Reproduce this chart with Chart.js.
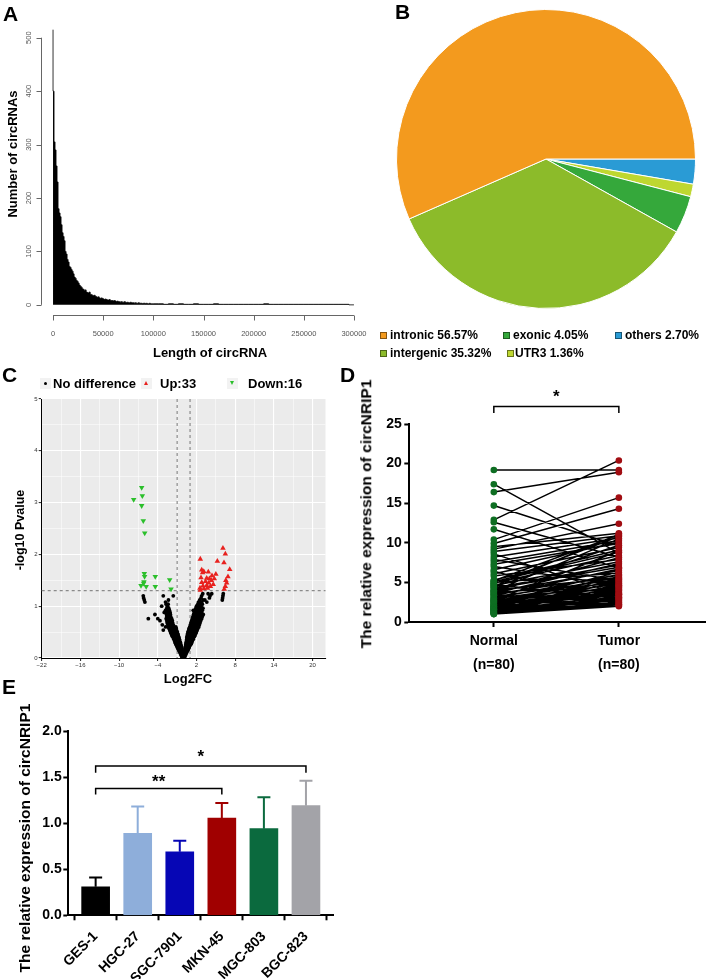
<!DOCTYPE html>
<html>
<head>
<meta charset="utf-8">
<script src="https://cdn.jsdelivr.net/npm/chart.js@4.4.1/dist/chart.umd.min.js"></script>
<style>
body { margin: 0; background: #fff; }
#fig { position: relative; width: 709px; height: 979px; overflow: hidden; font-family: "Liberation Sans", Arial, sans-serif; }
canvas { position: absolute; }
.t { position: absolute; white-space: nowrap; font-weight: bold; color: #000; line-height: 1; }
.letter { font-size: 21px; }
.ctr { transform: translate(-50%, -50%); }
.vert { transform: translate(-50%, -50%) rotate(-90deg); }
.sq { position: absolute; width: 5px; height: 5px; border: 1px solid rgba(0,0,0,0.45); }
.key { position: absolute; width: 11px; height: 11px; background: #f2f2f2; }
</style>
</head>
<body>
<div id="fig">
  <canvas id="cA" width="372" height="365" style="left:0;top:0"></canvas>
  <canvas id="cB" width="304" height="304" style="left:394px;top:7px"></canvas>
  <canvas id="cC" width="345" height="325" style="left:0;top:365px"></canvas>
  <canvas id="cD" width="354" height="310" style="left:355px;top:370px"></canvas>
  <canvas id="cE" width="345" height="289" style="left:0;top:690px"></canvas>

  <div class="t letter" style="left:3px;top:3px">A</div>
  <div class="t letter" style="left:395px;top:1px">B</div>
  <div class="t letter" style="left:2px;top:364px">C</div>
  <div class="t letter" style="left:340px;top:364px">D</div>
  <div class="t letter" style="left:2px;top:676px">E</div>

  <!-- A titles -->
  <div class="t vert" style="left:12px;top:154px;font-size:13px">Number of circRNAs</div>
  <div class="t ctr" style="left:210px;top:352px;font-size:13px">Length of circRNA</div>

  <!-- B legend -->
  <div id="legB"></div>

  <!-- C legend and titles -->
  <div class="key" style="left:40px;top:378px"></div>
  <div style="position:absolute;left:44px;top:382px;width:3px;height:3px;border-radius:50%;background:#000"></div>
  <div class="t" style="left:53px;top:377px;font-size:13px">No difference</div>
  <div class="key" style="left:141px;top:378px"></div>
  <div style="position:absolute;left:144px;top:381px;width:0;height:0;border-left:2.5px solid transparent;border-right:2.5px solid transparent;border-bottom:4.5px solid #e8211e"></div>
  <div class="t" style="left:160px;top:377px;font-size:13px">Up:33</div>
  <div class="key" style="left:227px;top:378px"></div>
  <div style="position:absolute;left:230px;top:381px;width:0;height:0;border-left:2.5px solid transparent;border-right:2.5px solid transparent;border-top:4.5px solid #2bbf2b"></div>
  <div class="t" style="left:248px;top:377px;font-size:13px">Down:16</div>
  <div class="t vert" style="left:20px;top:530px;font-size:12.5px">-log10 Pvalue</div>
  <div class="t ctr" style="left:188px;top:678px;font-size:13px">Log2FC</div>

  <!-- D / E titles -->
  <div class="t vert" style="left:366px;top:514px;font-size:15.5px">The relative expression of circNRIP1</div>
  <div class="t vert" style="left:25px;top:838px;font-size:15.5px">The relative expression of circNRIP1</div>
</div>

<script>
// ---------- A: length histogram ----------
const binFine = 1000;                 // first 100 kb, 1 kb bins
const countsFine = [
  515, 400, 305, 290, 260, 230, 180, 172, 165, 150,
  135, 128, 120, 100, 95, 85, 80, 72, 70, 66,
  63, 58, 52, 50, 46, 44, 41, 37, 35, 33,
  30, 29, 27, 28, 24, 23, 22, 24, 20, 19,
  18, 17, 18, 16, 15, 14, 15, 13, 12, 13,
  12, 11, 10, 11, 10, 9, 9, 10, 8, 8,
  8, 7, 8, 7, 6, 7, 6, 6, 5, 6,
  5, 5, 6, 5, 4, 5, 4, 4, 5, 4,
  4, 4, 3, 4, 3, 3, 4, 3, 3, 3,
  2, 3, 3, 2, 3, 2, 2, 3, 2, 2
];
const tailStart = 100000, binTail = 5000;   // 100-300 kb, 5 kb bins
const countsTail = [
  2, 2, 2, 1, 2, 1, 2, 1, 1, 2,
  1, 1, 1, 2, 1, 1, 1, 1, 1, 1,
  1, 1, 1, 2, 1, 1, 1, 1, 1, 1,
  1, 1, 1, 1, 1, 1, 1, 1, 1, 1
];
const xTicksA = [0, 50000, 100000, 150000, 200000, 250000, 300000];
const yTicksA = [0, 100, 200, 300, 400, 500];

// ---------- B: pie ----------
const pieLabels = ['others', 'UTR3', 'exonic', 'intergenic', 'intronic'];
const piePct = [2.70, 1.36, 4.05, 35.32, 56.57];
const pieColors = ['#2a9bd5', '#bed730', '#35a83b', '#8cbb2a', '#f39a1e'];

// ---------- C: volcano ----------
const downPts = [
  [-6.5, 3.29], [-6.4, 3.13], [-7.74, 3.06], [-6.5, 2.94], [-6.25, 2.65], [-6.03, 2.41],
  [-6.09, 1.63], [-6.05, 1.57], [-4.39, 1.57], [-2.16, 1.51], [-6.6, 1.40], [-6.2, 1.44],
  [-5.8, 1.38], [-4.39, 1.38], [-1.95, 1.33], [-6.15, 1.47]
];
const upPts = [
  [6.1, 2.12], [6.47, 2.01], [2.59, 1.91], [5.23, 1.87], [6.26, 1.84], [7.15, 1.71],
  [2.81, 1.70], [3.12, 1.67], [3.83, 1.66], [2.95, 1.65], [4.4, 1.59], [6.88, 1.57],
  [3.58, 1.54], [4.0, 1.53], [4.76, 1.53], [2.81, 1.46], [4.6, 1.42], [6.68, 1.45],
  [3.0, 1.39], [3.58, 1.40], [4.16, 1.38], [2.54, 1.35], [3.16, 1.34], [6.47, 1.38],
  [6.3, 1.33], [3.4, 1.48], [3.9, 1.45], [2.7, 1.55], [4.3, 1.50], [6.55, 1.50],
  [2.6, 1.31], [3.7, 1.35], [5.0, 1.62]
];
// no-difference points, grouped by -log10 p level
const noDiffRows = [
  [0.02, [-0.25, -0.15, -0.1, -0.05, 0, 0.05, 0.1, 0.15]],
  [0.04, [-0.3, -0.2, -0.1, 0, 0.1, 0.2]],
  [0.06, [-0.4, -0.3, -0.2, -0.1, 0, 0.1, 0.2, 0.3]],
  [0.08, [-0.45, -0.35, -0.25, -0.15, 0.15, 0.25, 0.35]],
  [0.10, [-0.55, -0.45, -0.35, -0.25, -0.15, 0.15, 0.25, 0.35, 0.45]],
  [0.12, [-0.6, -0.5, -0.4, -0.3, 0.2, 0.3, 0.4, 0.5]],
  [0.14, [-0.7, -0.6, -0.5, -0.4, -0.3, 0.2, 0.3, 0.45, 0.6]],
  [0.16, [-0.8, -0.65, -0.5, -0.35, 0.25, 0.4, 0.55, 0.7]],
  [0.18, [-0.85, -0.7, -0.55, -0.4, -0.25, 0.25, 0.45, 0.6, 0.75]],
  [0.20, [-0.95, -0.8, -0.6, -0.45, -0.3, 0.3, 0.5, 0.7, 0.85]],
  [0.22, [-1.0, -0.85, -0.7, -0.55, -0.35, 0.3, 0.5, 0.7, 0.9]],
  [0.24, [-1.1, -0.9, -0.75, -0.55, -0.4, 0.35, 0.55, 0.75, 0.95]],
  [0.26, [-1.15, -1.0, -0.8, -0.6, -0.45, 0.35, 0.6, 0.8, 1.0, 1.1]],
  [0.28, [-1.25, -1.05, -0.85, -0.65, -0.5, 0.4, 0.65, 0.85, 1.05, 1.2]],
  [0.30, [-1.3, -1.1, -0.9, -0.7, -0.5, 0.4, 0.65, 0.9, 1.1, 1.25]],
  [0.33, [-1.4, -1.2, -1.0, -0.8, -0.6, 0.45, 0.7, 0.95, 1.2, 1.35]],
  [0.36, [-1.5, -1.3, -1.1, -0.85, -0.65, 0.5, 0.75, 1.0, 1.25, 1.5]],
  [0.39, [-1.6, -1.4, -1.2, -0.95, -0.7, 0.5, 0.8, 1.05, 1.3, 1.55]],
  [0.42, [-1.75, -1.5, -1.25, -1.0, -0.8, 0.55, 0.85, 1.15, 1.4, 1.7]],
  [0.45, [-1.85, -1.6, -1.35, -1.1, -0.85, 0.6, 0.9, 1.2, 1.5, 1.8]],
  [0.48, [-1.95, -1.7, -1.45, -1.2, -0.95, 0.65, 0.95, 1.3, 1.6, 1.9]],
  [0.51, [-2.05, -1.8, -1.55, -1.3, -1.0, 0.7, 1.05, 1.4, 1.7, 2.0]],
  [0.54, [-2.15, -1.9, -1.6, -1.35, -1.1, 0.8, 1.15, 1.5, 1.8, 2.1, -3.15]],
  [0.57, [-2.25, -2.0, -1.7, -1.45, -1.15, 0.85, 1.2, 1.55, 1.9, 2.2]],
  [0.60, [-2.35, -2.05, -1.8, -1.5, -1.2, 0.95, 1.3, 1.65, 2.0, 2.35, -2.8]],
  [0.64, [-2.45, -2.15, -1.85, -1.6, 1.05, 1.4, 1.75, 2.1, 2.45, -3.3]],
  [0.68, [-2.55, -2.25, -1.95, -1.7, 1.15, 1.5, 1.85, 2.2, 2.55]],
  [0.72, [-2.6, -2.3, -2.0, -1.75, 1.25, 1.6, 1.95, 2.3, 2.65, -3.66]],
  [0.76, [-2.7, -2.4, -2.1, -1.85, 1.35, 1.7, 2.05, 2.4, 2.8, -5.47, -4.0]],
  [0.80, [-2.6, -2.3, -2.0, 1.45, 1.8, 2.15, 2.5, 2.9]],
  [0.84, [-2.65, -2.35, -2.05, 1.55, 1.9, 2.3, 2.65, 3.05, -4.44]],
  [0.88, [-2.7, -2.4, -2.1, 1.65, 2.0, 2.4, 2.8, -3.0]],
  [0.92, [-2.8, -2.5, -2.2, 1.75, 2.1, 2.5, 2.9, 1.5]],
  [0.96, [-2.6, -2.3, 1.9, 2.3, 2.7, 3.0]],
  [1.00, [-2.5, 2.0, 2.4, 2.7, -3.4]],
  [1.04, [-2.7, -2.4, 2.2, 2.6, 2.9]],
  [1.08, [-2.8, 2.3, 2.8, 3.6, -6.0]],
  [1.12, [2.5, 3.0, -6.1, -2.35, 6.0, 3.3]],
  [1.16, [2.7, -6.2, 6.05, 4.0]],
  [1.20, [2.8, -3.15, -6.25, 4.1, 6.1, -1.6]],
  [1.24, [2.97, 4.36, 6.15, 3.8]]
];
const xMajorC = [-22, -16, -10, -4, 2, 8, 14, 20];
const xMinorC = [-19, -13, -7, -1, 5, 11, 17];
const yMajorC = [0, 1, 2, 3, 4, 5];
const yMinorC = [0.5, 1.5, 2.5, 3.5, 4.5];
const fcCut = 1, pCut = 1.301;

// ---------- D: paired expression ----------
const groupLabels = [['Normal', '(n=80)'], ['Tumor', '(n=80)']];
const normalExpr = [
  19.2, 17.4, 16.4, 14.7, 12.9, 12.6, 11.7, 10.4, 9.9, 9.5,
  9.2, 8.9, 8.6, 8.2, 7.9, 7.6, 7.3, 7.0, 6.6, 6.1,
  5.8, 5.3, 5.1, 5.0, 4.9, 4.7, 4.6, 4.4, 4.3, 4.2,
  4.0, 3.9, 3.8, 3.7, 3.6, 3.5, 3.4, 3.3, 3.2, 3.1,
  3.0, 2.9, 2.8, 2.7, 2.6, 2.6, 2.5, 2.4, 2.3, 2.2,
  2.2, 2.1, 2.0, 2.0, 1.9, 1.9, 1.8, 1.8, 1.7, 1.7,
  1.6, 1.6, 1.5, 1.5, 1.4, 1.4, 1.3, 1.3, 1.2, 1.2,
  1.1, 1.1, 1.0, 1.0, 5.2, 4.8, 3.9, 6.4, 4.5, 2.7
];
const tumorExpr = [
  19.2, 8.7, 18.9, 9.6, 20.4, 8.2, 6.8, 15.7, 14.3, 11.2,
  12.4, 10.9, 3.5, 10.6, 5.2, 10.3, 9.9, 4.6, 10.1, 9.4,
  7.9, 9.1, 8.8, 6.2, 8.4, 3.1, 7.6, 9.7, 7.2, 6.9,
  5.6, 8.1, 6.5, 4.9, 7.4, 5.9, 2.6, 6.7, 5.4, 4.3,
  6.0, 5.1, 3.9, 4.8, 5.7, 3.3, 4.4, 6.3, 4.1, 3.7,
  5.3, 2.9, 4.6, 3.4, 5.0, 2.4, 3.8, 4.2, 2.8, 3.6,
  4.7, 2.2, 3.2, 5.5, 2.7, 4.0, 3.0, 2.3, 3.5, 2.1,
  4.5, 2.5, 3.1, 2.0, 11.0, 10.8, 10.5, 2.2, 11.1, 9.0
];
const yTicksD = [0, 5, 10, 15, 20, 25];

// ---------- E: cell lines ----------
const cellLines = ['GES-1', 'HGC-27', 'SGC-7901', 'MKN-45', 'MGC-803', 'BGC-823'];
const cellMeans = [0.31, 0.89, 0.69, 1.055, 0.94, 1.19];
const cellSd = [0.10, 0.29, 0.12, 0.165, 0.34, 0.27];
const cellColors = ['#000000', '#8eaeda', '#0606b5', '#a00000', '#0b6a3e', '#a3a3a8'];
const yTicksE = [0, 0.5, 1.0, 1.5, 2.0];

const FONT = '"Liberation Sans", Arial, sans-serif';
Chart.defaults.font.family = FONT;
Chart.defaults.animation = false;
Chart.defaults.responsive = false;
Chart.defaults.plugins.legend.display = false;
Chart.defaults.plugins.tooltip.enabled = false;

// ===== A =====
const histPts = [];
countsFine.forEach((c, i) => histPts.push({ x: i * binFine, y: c }));
countsTail.forEach((c, j) => histPts.push({ x: tailStart + j * binTail, y: c }));
histPts.push({ x: 300000, y: 0 });

// base-R style axes, drawn from the chart's scales
const rAxes = {
  id: 'rAxes',
  afterDraw(chart) {
    const { ctx, chartArea } = chart;
    const x = chart.scales.x, y = chart.scales.y;
    ctx.save();
    ctx.strokeStyle = '#666';
    ctx.lineWidth = 1;
    ctx.fillStyle = '#555';
    ctx.font = '7.5px ' + FONT;
    const ay = chartArea.bottom + 0.5;
    ctx.beginPath();
    ctx.moveTo(x.getPixelForValue(xTicksA[0]), ay);
    ctx.lineTo(x.getPixelForValue(xTicksA[xTicksA.length - 1]), ay);
    xTicksA.forEach(v => {
      const px = Math.round(x.getPixelForValue(v)) + 0.5;
      ctx.moveTo(px, ay);
      ctx.lineTo(px, ay + 5);
    });
    const ax = chartArea.left + 0.5;
    ctx.moveTo(ax, y.getPixelForValue(yTicksA[0]));
    ctx.lineTo(ax, y.getPixelForValue(yTicksA[yTicksA.length - 1]));
    yTicksA.forEach(v => {
      const py = Math.round(y.getPixelForValue(v)) + 0.5;
      ctx.moveTo(ax, py);
      ctx.lineTo(ax - 5, py);
    });
    ctx.stroke();
    ctx.textAlign = 'center';
    ctx.textBaseline = 'middle';
    xTicksA.forEach(v => ctx.fillText(String(v), x.getPixelForValue(v), ay + 18));
    yTicksA.forEach(v => {
      ctx.save();
      ctx.translate(ax - 13, y.getPixelForValue(v));
      ctx.rotate(-Math.PI / 2);
      ctx.fillText(String(v), 0, 0);
      ctx.restore();
    });
    ctx.restore();
  }
};

new Chart(document.getElementById('cA'), {
  type: 'line',
  data: {
    datasets: [{
      data: histPts,
      stepped: 'after',
      fill: 'origin',
      backgroundColor: '#000',
      borderColor: '#000',
      borderWidth: 0.8,
      pointRadius: 0
    }]
  },
  options: {
    layout: { padding: { left: 41, top: 19, right: 6, bottom: 50 } },
    scales: {
      x: { type: 'linear', display: false, min: -12000, max: 312000 },
      y: { display: false, min: -19, max: 535 }
    }
  },
  plugins: [rAxes]
});

// ===== B =====
new Chart(document.getElementById('cB'), {
  type: 'pie',
  data: {
    labels: pieLabels,
    datasets: [{ data: piePct, backgroundColor: pieColors, borderColor: '#fff', borderWidth: 1 }]
  },
  options: { rotation: 90, layout: { padding: 2 } }
});

// legend for B (two rows, as in the figure)
const legB = document.getElementById('legB');
const legItems = [
  { name: 'intronic', x: 380, y: 335, tx: 390 },
  { name: 'exonic', x: 503, y: 335, tx: 513 },
  { name: 'others', x: 615, y: 335, tx: 625 },
  { name: 'intergenic', x: 380, y: 353, tx: 390 },
  { name: 'UTR3', x: 507, y: 353, tx: 515 }
];
legItems.forEach(it => {
  const k = pieLabels.indexOf(it.name);
  const sq = document.createElement('div');
  sq.className = 'sq';
  sq.style.left = it.x + 'px';
  sq.style.top = (it.y - 3) + 'px';
  sq.style.background = pieColors[k];
  legB.appendChild(sq);
  const tx = document.createElement('div');
  tx.className = 't';
  tx.style.left = it.tx + 'px';
  tx.style.top = (it.y - 6) + 'px';
  tx.style.fontSize = '12px';
  tx.textContent = it.name + ' ' + piePct[k].toFixed(2) + '%';
  legB.appendChild(tx);
});

// ===== C =====
const noDiffPts = [];
noDiffRows.forEach(([yv, xs]) => xs.forEach(xv => noDiffPts.push({ x: xv, y: yv })));

const ggPanel = {
  id: 'ggPanel',
  beforeDraw(chart) {
    const { ctx, chartArea: a } = chart;
    ctx.save();
    ctx.fillStyle = '#ebebeb';
    ctx.fillRect(a.left, a.top, a.right - a.left, a.bottom - a.top);
    ctx.restore();
  },
  beforeDatasetsDraw(chart) {
    const { ctx, chartArea: a } = chart;
    const x = chart.scales.x, y = chart.scales.y;
    ctx.save();
    ctx.strokeStyle = '#8a8a8a';
    ctx.lineWidth = 1.2;
    ctx.setLineDash([3, 3]);
    ctx.beginPath();
    [-fcCut, fcCut].forEach(v => {
      const px = x.getPixelForValue(v);
      ctx.moveTo(px, a.top);
      ctx.lineTo(px, a.bottom);
    });
    const py = y.getPixelForValue(pCut);
    ctx.moveTo(a.left, py);
    ctx.lineTo(a.right, py);
    ctx.stroke();
    ctx.restore();
  }
};
const minusFmt = v => (v < 0 ? '\u2212' + Math.abs(v) : String(v));

new Chart(document.getElementById('cC'), {
  type: 'scatter',
  data: {
    datasets: [
      { data: downPts.map(([x, y]) => ({ x, y })), pointStyle: 'triangle', rotation: 180, pointRadius: 3.2, backgroundColor: '#2bbf2b', borderWidth: 0, order: 1 },
      { data: upPts.map(([x, y]) => ({ x, y })), pointStyle: 'triangle', pointRadius: 3.2, backgroundColor: '#e8211e', borderWidth: 0, order: 1 },
      { data: noDiffPts, pointRadius: 1.9, backgroundColor: '#000', borderWidth: 0, order: 2 }
    ]
  },
  options: {
    layout: { padding: { top: 34, right: 19.5, left: 0, bottom: 0 } },
    scales: {
      x: {
        type: 'linear', min: -22, max: 22,
        afterBuildTicks: s => { s.ticks = xMajorC.concat(xMinorC).sort((a, b) => a - b).map(v => ({ value: v })); },
        afterFit: s => { s.height = 32; },
        ticks: { callback: v => (xMajorC.includes(v) ? minusFmt(v) : ''), font: { size: 6 }, color: '#333', padding: 1, maxRotation: 0, autoSkip: false },
        grid: {
          color: '#fff',
          lineWidth: c => (c.tick && xMajorC.includes(c.tick.value) ? 1.1 : 0.5),
          tickLength: 3,
          tickColor: c => (c.tick && xMajorC.includes(c.tick.value) ? '#333' : 'rgba(0,0,0,0)')
        },
        border: { color: '#000', width: 1 }
      },
      y: {
        min: 0, max: 5,
        afterBuildTicks: s => { s.ticks = yMajorC.concat(yMinorC).sort((a, b) => a - b).map(v => ({ value: v })); },
        afterFit: s => { s.width = 41.7; },
        ticks: { callback: v => (yMajorC.includes(v) ? String(v) : ''), font: { size: 6 }, color: '#333', padding: 1, autoSkip: false },
        grid: {
          color: '#fff',
          lineWidth: c => (c.tick && yMajorC.includes(c.tick.value) ? 1.1 : 0.5),
          tickLength: 3,
          tickColor: c => (c.tick && yMajorC.includes(c.tick.value) ? '#333' : 'rgba(0,0,0,0)')
        },
        border: { color: '#000', width: 1 }
      }
    }
  },
  plugins: [ggPanel]
});

// ===== D =====
const pairLines = [];
normalExpr.forEach((n, i) => {
  pairLines.push({ x: 0, y: n }, { x: 1, y: tumorExpr[i] }, { x: 0.5, y: null });
});

function drawStar(ctx, text, cx, cy) {
  ctx.font = 'bold 17px ' + FONT;
  ctx.textAlign = 'center';
  ctx.textBaseline = 'alphabetic';
  ctx.fillStyle = '#000';
  ctx.fillText(text, cx, cy + 10);
}

const pairBracket = {
  id: 'pairBracket',
  afterDraw(chart) {
    const { ctx } = chart;
    const x = chart.scales.x, y = chart.scales.y;
    const x0 = x.getPixelForValue(0), x1 = x.getPixelForValue(1);
    const top = y.getPixelForValue(27.2), leg = y.getPixelForValue(26.4);
    ctx.save();
    ctx.strokeStyle = '#000';
    ctx.lineWidth = 1.5;
    ctx.beginPath();
    ctx.moveTo(x0, leg); ctx.lineTo(x0, top); ctx.lineTo(x1, top); ctx.lineTo(x1, leg);
    ctx.stroke();
    drawStar(ctx, '*', (x0 + x1) / 2, y.getPixelForValue(29.1));
    ctx.restore();
  }
};

const boldTick = { size: 14, weight: 'bold' };
new Chart(document.getElementById('cD'), {
  type: 'scatter',
  data: {
    datasets: [
      { data: normalExpr.map(v => ({ x: 0, y: v })), pointRadius: 3.3, backgroundColor: '#0e6e22', borderWidth: 0, order: 1 },
      { data: tumorExpr.map(v => ({ x: 1, y: v })), pointRadius: 3.3, backgroundColor: '#a10d12', borderWidth: 0, order: 1 },
      { type: 'line', data: pairLines, borderColor: '#000', borderWidth: 1.5, pointRadius: 0, spanGaps: false, order: 3 }
    ]
  },
  options: {
    layout: { padding: { top: 54, right: 0, left: 0, bottom: 0 } },
    scales: {
      x: {
        type: 'linear', min: -0.676, max: 1.689,
        afterBuildTicks: s => { s.ticks = [0, 1].map(v => ({ value: v })); },
        afterFit: s => { s.height = 58; },
        ticks: { callback: v => groupLabels[v], font: { size: 14, weight: 'bold', lineHeight: 1.7 }, color: '#000', padding: 2, maxRotation: 0, autoSkip: false },
        grid: { drawOnChartArea: false, tickLength: 5, tickWidth: 2, tickColor: '#000' },
        border: { color: '#000', width: 2 }
      },
      y: {
        min: 0, max: 25,
        afterBuildTicks: s => { s.ticks = yTicksD.map(v => ({ value: v })); },
        afterFit: s => { s.width = 54.3; },
        ticks: { font: boldTick, color: '#000', padding: 2.5 },
        grid: { drawOnChartArea: false, tickLength: 5, tickWidth: 2, tickColor: '#000' },
        border: { color: '#000', width: 2 }
      }
    }
  },
  plugins: [pairBracket]
});

// ===== E =====
const sigBrackets = [
  { from: 0, to: 3, level: 1.377, leg: 1.312, label: '**', labelAt: 1.503 },
  { from: 0, to: 5, level: 1.62, leg: 1.547, label: '*', labelAt: 1.774 }
];
const barExtras = {
  id: 'barExtras',
  afterDatasetsDraw(chart) {
    const { ctx } = chart;
    const x = chart.scales.x, y = chart.scales.y;
    ctx.save();
    ctx.lineWidth = 2;
    cellMeans.forEach((m, i) => {
      const px = x.getPixelForValue(i);
      const base = y.getPixelForValue(m), top = y.getPixelForValue(m + cellSd[i]);
      ctx.strokeStyle = cellColors[i];
      ctx.beginPath();
      ctx.moveTo(px, base); ctx.lineTo(px, top);
      ctx.moveTo(px - 6.5, top); ctx.lineTo(px + 6.5, top);
      ctx.stroke();
    });
    ctx.strokeStyle = '#000';
    ctx.lineWidth = 1.5;
    sigBrackets.forEach(b => {
      const x0 = x.getPixelForValue(b.from), x1 = x.getPixelForValue(b.to);
      const ly = y.getPixelForValue(b.level), lg = y.getPixelForValue(b.leg);
      ctx.beginPath();
      ctx.moveTo(x0, lg); ctx.lineTo(x0, ly); ctx.lineTo(x1, ly); ctx.lineTo(x1, lg);
      ctx.stroke();
      drawStar(ctx, b.label, (x0 + x1) / 2, y.getPixelForValue(b.labelAt));
    });
    ctx.restore();
  }
};

new Chart(document.getElementById('cE'), {
  type: 'bar',
  data: {
    datasets: [{
      data: cellMeans.map((v, i) => ({ x: i, y: v })),
      backgroundColor: cellColors,
      borderWidth: 0,
      barThickness: 28
    }]
  },
  options: {
    layout: { padding: { top: 41, right: 11.7, left: 0, bottom: 0 } },
    scales: {
      x: {
        type: 'linear', min: -0.65, max: 5.65, offset: false,
        afterBuildTicks: s => { s.ticks = cellLines.map((c, i) => ({ value: i })); },
        afterFit: s => { s.height = 63.7; },
        ticks: { callback: v => cellLines[v], font: boldTick, color: '#000', padding: 8, minRotation: 45, maxRotation: 45, autoSkip: false },
        grid: { drawOnChartArea: false, tickLength: 5, tickWidth: 2, tickColor: '#000' },
        border: { color: '#000', width: 2 }
      },
      y: {
        min: 0, max: 2,
        afterBuildTicks: s => { s.ticks = yTicksE.map(v => ({ value: v })); },
        afterFit: s => { s.width = 68.3; },
        ticks: { callback: v => v.toFixed(1), font: boldTick, color: '#000', padding: 1.5 },
        grid: { drawOnChartArea: false, tickLength: 5, tickWidth: 2, tickColor: '#000' },
        border: { color: '#000', width: 2 }
      }
    }
  },
  plugins: [barExtras]
});
</script>
</body>
</html>
